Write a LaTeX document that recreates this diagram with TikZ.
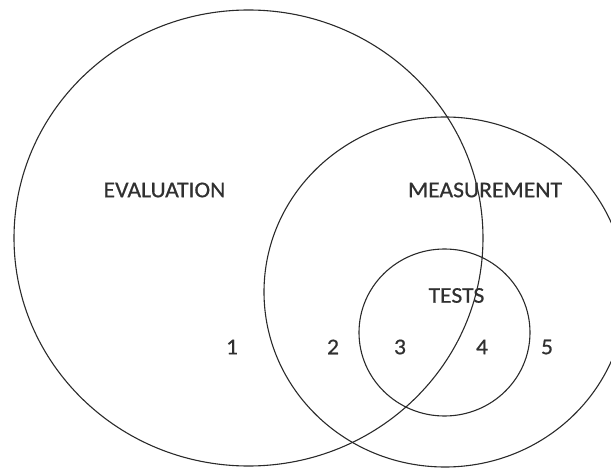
\documentclass[tikz,border=0pt]{standalone}
\usepackage{fontspec}
\setmainfont{Carlito}[FakeBold=0.6]
\definecolor{linecol}{HTML}{2A2A2A}
\definecolor{textcol}{HTML}{303030}
\tikzset{
  setline/.style={draw=linecol, line width=1.1pt},
  setlabel/.style={text=textcol, inner sep=0pt, xscale=1.05, font=\fontsize{22.5}{25}\selectfont},
}
\begin{document}
\begin{tikzpicture}[x=1pt,y=-1pt]
\useasboundingbox (0,0) rectangle (611,468);
% set centres
\coordinate (evalc) at (248.5,238);
\coordinate (measc) at (445,292);
\coordinate (testc) at (444.5,332.5);
% sets
\draw[setline] (evalc) ellipse [x radius=234.5, y radius=228];
\draw[setline] (measc) ellipse [x radius=181, y radius=175];
\draw[setline] (testc) ellipse [x radius=85.5, y radius=83.5];
% labels
\node[setlabel] (evaluation) at (164.5,190) {EVALUATION};
\node[setlabel] (measurement) at (485,190) {MEASUREMENT};
\node[setlabel] (tests) at (456.5,295.5) {TESTS};
\node[setlabel] (n1) at (232,347) {1};
\node[setlabel] (n2) at (333,347) {2};
\node[setlabel] (n3) at (400,347) {3};
\node[setlabel] (n4) at (482,347) {4};
\node[setlabel] (n5) at (547,347) {5};
\end{tikzpicture}
\end{document}
